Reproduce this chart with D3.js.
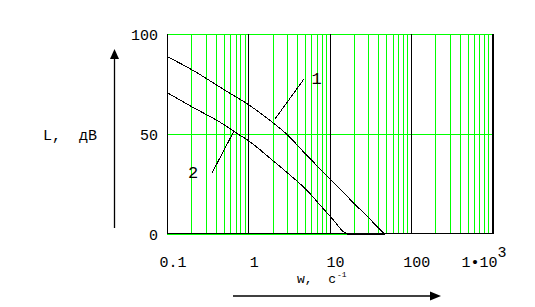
<!DOCTYPE html>
<html><head><meta charset="utf-8">
<script src="https://cdn.jsdelivr.net/npm/d3@7"></script>
<style>body{margin:0;background:#fff}svg{display:block}text{font-family:"Liberation Mono","DejaVu Sans Mono",monospace;fill:#000}</style>
</head><body><svg id="c" width="535" height="307"></svg>
<script>
// Data
const curve1W = [0.1, 0.2, 0.5, 1, 2, 3, 5, 8, 10, 20, 30, 48];
const curve1L = [89, 82.5, 72.5, 65, 56, 50, 40.5, 32, 28, 15.6, 8.5, 0];
const curve2W = [0.1, 0.2, 0.5, 0.7, 1, 2, 3, 5, 10, 17.5, 48];
const curve2L = [71, 64, 55, 51, 47, 37, 31, 23, 9.5, 0, 0];
const xTicks = [0.1, 1, 10, 100, 1000];
const xTickLabels = ["0.1", "1", "10", "100", "1•10"];
const yTicks = [0, 50, 100];
const yTickLabels = ["0", "50", "100"];
const decades = [0.1, 1, 10, 100];
const curveLabels = ["1", "2"];

const svg = d3.select("#c");
const x = d3.scaleLog().domain([0.1, 1000]).range([167, 492]);
const y = d3.scaleLinear().domain([0, 100]).range([234, 34]);
const green = "#00ff00";

const g = svg.append("g").attr("shape-rendering", "crispEdges");

// minor vertical gridlines
const minors = [];
decades.forEach(d => { for (let k = 2; k <= 9; k++) minors.push(d * k); });
g.selectAll(".minor").data(minors).enter().append("line")
  .attr("x1", d => Math.round(x(d)) + 0.5).attr("x2", d => Math.round(x(d)) + 0.5)
  .attr("y1", y(100)).attr("y2", y(0))
  .attr("stroke", green).attr("stroke-width", 1);

// horizontal grid lines
const zeroEnd = curve2W[curve2L.indexOf(0)];
g.selectAll(".hgrid").data(yTicks).enter().append("line")
  .attr("x1", x(0.1)).attr("x2", d => d === 0 ? x(zeroEnd) : x(1000) + 1)
  .attr("y1", d => y(d) + 0.5).attr("y2", d => y(d) + 0.5)
  .attr("stroke", green).attr("stroke-width", 1);

// decade lines (black)
g.selectAll(".dec").data([1, 10, 100]).enter().append("line")
  .attr("x1", d => Math.round(x(d)) + 0.5).attr("x2", d => Math.round(x(d)) + 0.5)
  .attr("y1", y(100)).attr("y2", y(0))
  .attr("stroke", "#000").attr("stroke-width", 1);

// frame: left, bottom, right
g.append("line").attr("x1", x(0.1) + 0.5).attr("x2", x(0.1) + 0.5).attr("y1", y(100)).attr("y2", y(0))
  .attr("stroke", "#000");
g.append("line").attr("x1", x(0.1)).attr("x2", x(1000) + 2).attr("y1", y(0) - 0.5).attr("y2", y(0) - 0.5)
  .attr("stroke", "#000");
g.append("line").attr("x1", x(1000) + 1).attr("x2", x(1000) + 1).attr("y1", y(100)).attr("y2", y(0))
  .attr("stroke", "#000").attr("stroke-width", 2);

// curves
const line = d3.line().x(d => x(d[0])).y(d => y(d[1])).curve(d3.curveMonotoneX);
[[curve1W, curve1L], [curve2W, curve2L]].forEach(([w, l]) => {
  g.append("path").datum(w.map((v, i) => [v, l[i]]))
    .attr("d", line).attr("fill", "none").attr("stroke", "#000").attr("stroke-width", 1)
    .attr("transform", "translate(0,0.5)");
});

// y tick labels
svg.selectAll(".yt").data(yTicks).enter().append("text")
  .attr("x", 158).attr("y", d => y(d) + 5.5).attr("text-anchor", "end")
  .style("font-size", "15px").text((d, i) => yTickLabels[i]);

// x tick labels
const xt = svg.selectAll(".xt").data(xTicks).enter().append("text")
  .attr("x", (d, i) => x(d) + (i === 4 ? -8 : 6)).attr("y", 266.5).attr("text-anchor", "middle")
  .style("font-size", "15px");
xt.append("tspan").text((d, i) => xTickLabels[i]);
xt.filter((d, i) => i === 4).append("tspan").attr("dy", -10).text("3");

// y axis label + arrow
svg.append("text").attr("x", 43).attr("y", 139.5).style("font-size", "15px")
  .style("white-space", "pre").text("L,  дВ");
svg.append("line").attr("x1", 114.5).attr("x2", 114.5).attr("y1", 56).attr("y2", 228)
  .attr("stroke", "#000").attr("stroke-width", 1.3);
svg.append("path").attr("d", "M114.5,49 L110,59 L119,59 Z").attr("fill", "#000");

// x axis label + arrow
const xl = svg.append("text").attr("x", 297).attr("y", 283).style("font-size", "13px").style("white-space", "pre");
xl.append("tspan").text("w,  c");
xl.append("tspan").attr("dy", -6).attr("dx", 1).style("font-size", "8px").text("-1");
svg.append("line").attr("x1", 233).attr("x2", 432).attr("y1", 296).attr("y2", 296)
  .attr("stroke", "#000").attr("stroke-width", 1.3);
svg.append("path").attr("d", "M441,296 L430,291.5 L430,300.5 Z").attr("fill", "#000");

// curve labels with leaders
svg.append("text").attr("x", 316.5).attr("y", 84).attr("text-anchor", "middle").style("font-size", "17px").text(curveLabels[0]);
svg.append("text").attr("x", 193).attr("y", 178).attr("text-anchor", "middle").style("font-size", "17px").text(curveLabels[1]);
svg.append("line").attr("x1", 304).attr("y1", 79).attr("x2", 275).attr("y2", 119).attr("stroke", "#000").attr("stroke-width", 1).attr("shape-rendering", "crispEdges");
svg.append("line").attr("x1", 212).attr("y1", 173).attr("x2", 234).attr("y2", 131).attr("stroke", "#000").attr("stroke-width", 1).attr("shape-rendering", "crispEdges");
</script></body></html>
